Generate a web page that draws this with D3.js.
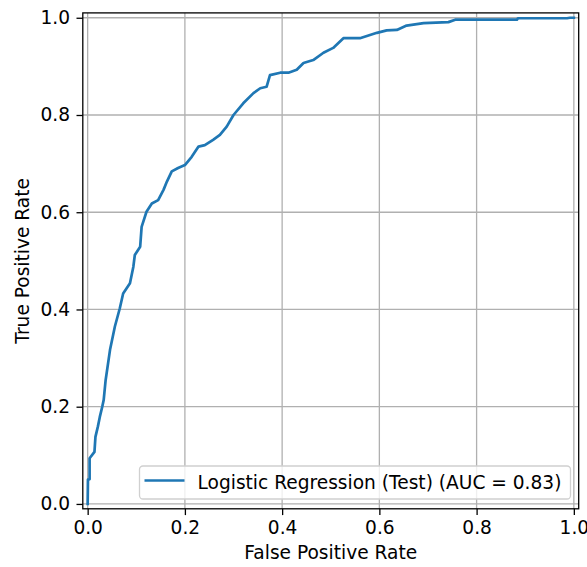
<!DOCTYPE html>
<html>
<head>
<meta charset="utf-8">
<script src="https://cdn.jsdelivr.net/npm/d3@7"></script>
<style>
  body { margin: 0; background: #fff; }
  text { font-family: 'DejaVu Sans', sans-serif; fill: #000; }
</style>
</head>
<body>
<div id="chart-area"></div>
<script>
// ROC curve points
let fpr = [0, 0.0006, 0.004, 0.004, 0.014, 0.016, 0.021, 0.025, 0.030, 0.033, 0.037,
  0.046, 0.056, 0.066, 0.073, 0.087, 0.094, 0.097, 0.108, 0.111, 0.121, 0.132, 0.145,
  0.156, 0.163, 0.173, 0.186, 0.200, 0.214, 0.228, 0.241, 0.258, 0.272, 0.286, 0.300,
  0.320, 0.341, 0.355, 0.368, 0.375, 0.396, 0.413, 0.430, 0.444, 0.464, 0.485, 0.505,
  0.526, 0.560, 0.595, 0.615, 0.636, 0.656, 0.691, 0.742, 0.756, 0.883, 0.885, 0.986,
  0.992, 1];
let tpr = [0, 0.05, 0.051, 0.094, 0.107, 0.138, 0.159, 0.179, 0.200, 0.214, 0.255,
  0.317, 0.365, 0.402, 0.433, 0.454, 0.488, 0.512, 0.529, 0.570, 0.601, 0.618, 0.625,
  0.646, 0.663, 0.684, 0.691, 0.697, 0.714, 0.735, 0.738, 0.749, 0.759, 0.776, 0.800,
  0.824, 0.845, 0.855, 0.858, 0.882, 0.887, 0.887, 0.893, 0.907, 0.913, 0.928, 0.938,
  0.958, 0.958, 0.969, 0.974, 0.975, 0.984, 0.989, 0.991, 0.996, 0.996, 0.999, 0.999,
  1, 1];
let ticks = [0, 0.2, 0.4, 0.6, 0.8, 1.0];
let legendLabel = 'Logistic Regression (Test) (AUC = 0.83)';
let xLabel = 'False Positive Rate';
let yLabel = 'True Positive Rate';

let data = fpr.map((f, i) => ({ fpr: f, tpr: tpr[i] }));

let fontSize = '18.6px';

// SVG drawing area
let margin = { top: 12.9, right: 8.3, bottom: 58.2, left: 82.8 };
let width = 587 - margin.left - margin.right,
  height = 567 - margin.top - margin.bottom;

let svg = d3
  .select('#chart-area')
  .append('svg')
  .attr('width', 587)
  .attr('height', 567)
  .append('g')
  .attr('transform', 'translate(' + margin.left + ',' + margin.top + ')');

// Scales (matplotlib-like 1% padding)
let x = d3.scaleLinear().domain([-0.01, 1.01]).range([0, width]);
let y = d3.scaleLinear().domain([-0.01, 1.01]).range([height, 0]);

// Grid
svg.append('g')
  .selectAll('line.gx')
  .data(ticks)
  .enter()
  .append('line')
  .attr('x1', d => x(d)).attr('x2', d => x(d))
  .attr('y1', 0).attr('y2', height)
  .attr('stroke', '#b0b0b0').attr('stroke-width', 1.3);
svg.append('g')
  .selectAll('line.gy')
  .data(ticks)
  .enter()
  .append('line')
  .attr('y1', d => y(d)).attr('y2', d => y(d))
  .attr('x1', 0).attr('x2', width)
  .attr('stroke', '#b0b0b0').attr('stroke-width', 1.3);

// Axes
let xAxis = svg.append('g')
  .attr('transform', `translate(0, ${height})`)
  .call(d3.axisBottom(x).tickValues(ticks).tickFormat(d3.format('.1f')).tickSize(6.3).tickPadding(6));
let yAxis = svg.append('g')
  .call(d3.axisLeft(y).tickValues(ticks).tickFormat(d3.format('.1f')).tickSize(6.3).tickPadding(6.5));
[xAxis, yAxis].forEach(a => {
  a.select('.domain').remove();
  a.selectAll('line').attr('stroke', '#000').attr('stroke-width', 1.3);
  a.selectAll('text').style('font-family', "'DejaVu Sans', sans-serif").style('font-size', fontSize).attr('fill', '#000');
});

// ROC line
let line = d3.line().x(d => x(d.fpr)).y(d => y(d.tpr));
svg.append('path')
  .datum(data)
  .attr('d', line)
  .attr('fill', 'none')
  .attr('stroke', '#1f77b4')
  .attr('stroke-width', 2.7)
  .attr('stroke-linejoin', 'round')
  .attr('stroke-linecap', 'square');

// Frame
svg.append('rect')
  .attr('width', width).attr('height', height)
  .attr('fill', 'none').attr('stroke', '#000').attr('stroke-width', 1.3);

// Legend
let lg = svg.append('g').attr('transform', `translate(${139.5 - margin.left}, ${466 - margin.top})`);
lg.append('rect')
  .attr('width', 431).attr('height', 33)
  .attr('rx', 3.5)
  .attr('fill', 'rgba(255,255,255,0.8)')
  .attr('stroke', '#d0d0d0').attr('stroke-width', 1.3);
lg.append('line')
  .attr('x1', 5).attr('x2', 45).attr('y1', 14.5).attr('y2', 14.5)
  .attr('stroke', '#1f77b4').attr('stroke-width', 2.7);
lg.append('text')
  .attr('x', 58).attr('y', 22.5)
  .style('font-size', fontSize)
  .text(legendLabel);

// Axis labels
svg.append('text')
  .attr('x', width / 2).attr('y', height + 50)
  .attr('text-anchor', 'middle')
  .style('font-size', fontSize)
  .text(xLabel);
svg.append('text')
  .attr('transform', `translate(-53.5, ${height / 2}) rotate(-90)`)
  .attr('text-anchor', 'middle')
  .style('font-size', fontSize)
  .text(yLabel);
</script>
</body>
</html>
